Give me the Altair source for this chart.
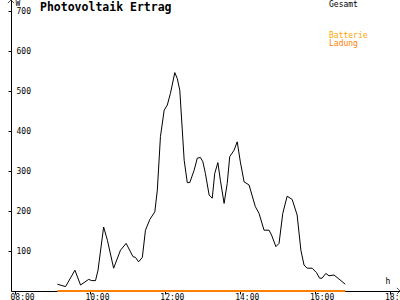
import altair as alt
import pandas as pd

title_text = "Photovoltaik Ertrag"

times = ["09:08", "09:21", "09:36", "09:45", "09:58", "10:03", "10:09", "10:13", "10:22", "10:28",
         "10:38", "10:49", "10:58", "11:09", "11:13", "11:18", "11:24", "11:29", "11:36", "11:44",
         "11:48", "11:53", "11:59", "12:04", "12:09", "12:16", "12:20", "12:24", "12:31", "12:36",
         "12:40", "12:47", "12:52", "12:57", "13:01", "13:05", "13:11", "13:16", "13:20", "13:25",
         "13:29", "13:35", "13:40", "13:44", "13:51", "13:56", "14:01", "14:07", "14:15", "14:25",
         "14:31", "14:39", "14:47", "14:51", "14:58", "15:03", "15:09", "15:16", "15:24", "15:32",
         "15:38", "15:43", "15:48", "15:56", "16:03", "16:08", "16:12", "16:18", "16:23", "16:31",
         "16:39", "16:49"]
gesamt = [17, 11, 52, 15, 29, 26, 26, 52, 160, 127,
          57, 102, 119, 86, 84, 73, 84, 152, 179, 198,
          252, 386, 452, 465, 494, 546, 531, 502, 327, 271,
          271, 302, 332, 334, 323, 294, 240, 232, 294, 321,
          277, 219, 269, 336, 352, 373, 323, 273, 265, 211,
          194, 152, 152, 140, 111, 119, 194, 237, 229, 190,
          102, 65, 57, 57, 46, 32, 32, 44, 38, 40,
          30, 17]
ladung_times = ["09:08", "16:49"]
ladung = [0, 0]

x_ticks = [8, 10, 12, 14, 16, 18]
y_ticks = [100, 200, 300, 400, 500, 600, 700]
x_domain = [7.893, 18.28]
y_domain = [0, 727.5]

legend_names = ["Gesamt", "Batterie", "Ladung"]
legend_colors = ["#000000", "#FFA500", "#FF8000"]

def to_hours(ts):
    return [int(t[:2]) + int(t[3:]) / 60 for t in ts]

df = pd.DataFrame({"h": to_hours(times), "w": gesamt})
df_l = pd.DataFrame({"h": to_hours(ladung_times), "w": ladung})
df_arrow = pd.DataFrame({"h": [x_domain[0]], "w": [y_domain[1]]})
df_arrow_x = pd.DataFrame({"h": [x_domain[1]], "w": [y_domain[0]]})

MONO = "DejaVu Sans Mono"

x_scale = alt.Scale(domain=x_domain, nice=False, zero=False)
y_scale = alt.Scale(domain=y_domain, nice=False)

x_enc = alt.X("h:Q", scale=x_scale, axis=alt.Axis(
    values=x_ticks,
    labelExpr="(datum.value<10?'0':'')+datum.value+':00'",
    grid=False, tickSize=3, labelAlign="left", labelOffset=-5, labelPadding=-1,
    labelBaseline="top", labelFlush=False, labelOverlap=False,
    labelFont=MONO, labelFontSize=8, labelColor="black",
    domainColor="black", tickColor="black",
    title="h", titleX=374, titleY=-14, titleAlign="left", titleBaseline="top",
    titleFont=MONO, titleFontSize=8, titleFontWeight="normal", titleColor="#000000"))
y_enc = alt.Y("w:Q", scale=y_scale, axis=alt.Axis(
    values=y_ticks, grid=False, tickSize=3, labelAlign="left", labelPadding=-8,
    labelBaseline="middle", labelFont=MONO, labelFontSize=8, labelColor="black",
    labelFlush=False, labelOverlap=False,
    domainColor="black", tickColor="black",
    title="W", titleAngle=0, titleX=4, titleY=-1, titleAlign="left", titleBaseline="top",
    titleFont=MONO, titleFontSize=8, titleFontWeight="normal", titleColor="#000000"))

line = alt.Chart(df).mark_line(color="black", strokeWidth=1, clip=False).encode(x=x_enc, y=y_enc)
lad = alt.Chart(df_l).mark_line(color="#FF8000", strokeWidth=2, clip=False).encode(x="h:Q", y="w:Q")
arrow_y = alt.Chart(df_arrow).mark_point(shape="M-1,1L0,0L1,1", size=40, filled=False,
                                         color="black", strokeWidth=1, clip=False).encode(x="h:Q", y="w:Q")
arrow_x = alt.Chart(df_arrow_x).mark_point(shape="M-1,-1L0,0L-1,1", size=40, filled=False,
                                           color="black", strokeWidth=1, clip=False).encode(x="h:Q", y="w:Q")

title_mark = alt.Chart(pd.DataFrame({"t": [title_text]})).mark_text(
    align="left", baseline="top", font=MONO, fontSize=11.5, fontWeight="bold", color="black"
).encode(text="t:N", x=alt.value(29), y=alt.value(1.5))

legs = []
for i, (n, c) in enumerate(zip(legend_names, legend_colors)):
    ypos = [0.5, 31.5, 39.5][i]
    legs.append(alt.Chart(pd.DataFrame({"name": [n]})).mark_text(
        align="left", baseline="top", font=MONO, fontSize=8, color=c
    ).encode(text="name:N", x=alt.value(318), y=alt.value(ypos)))

chart = alt.layer(line, lad, arrow_y, arrow_x, title_mark, *legs).properties(
    width=389, height=291,
    padding={"left": 11, "top": 0, "right": 0, "bottom": 9},
    autosize=alt.AutoSizeParams(type="none"),
    background="white",
).configure_view(stroke=None)

chart.save("out.html", embed_options={"renderer": "svg", "actions": False})
